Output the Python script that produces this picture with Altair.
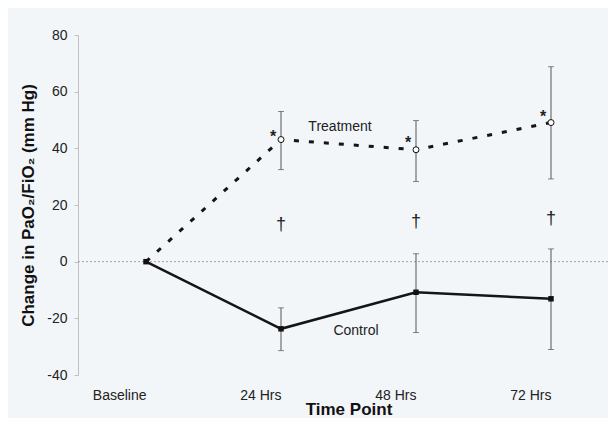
import altair as alt
import pandas as pd

time_points = ["Baseline", "24 Hrs", "48 Hrs", "72 Hrs"]
treat_mean = [0, 43.1, 39.5, 49.1]
treat_lo = [None, 32.5, 28.3, 29.2]
treat_hi = [None, 53.0, 49.8, 68.8]
ctrl_mean = [0, -23.7, -10.8, -13.1]
ctrl_lo = [None, -31.4, -25.0, -31.0]
ctrl_hi = [None, -16.3, 2.8, 4.5]
star_y = [None, 45.5, 43.4, 52.6]
dagger_y = [None, 13.1, 13.9, 15.2]
y_ticks = [-40, -20, 0, 20, 40, 60, 80]

FONT = "Liberation Sans"

treat = pd.DataFrame({"t": time_points, "m": treat_mean, "lo": treat_lo, "hi": treat_hi})
ctrl = pd.DataFrame({"t": time_points, "m": ctrl_mean, "lo": ctrl_lo, "hi": ctrl_hi})
ann = pd.DataFrame({"t": time_points, "s": star_y, "d": dagger_y})

xs = alt.Scale(domain=time_points, type="point", range=[68, 473], padding=0)
ys = alt.Scale(domain=[-40, 80], nice=False, zero=False)

X = alt.X("t:N", scale=xs, sort=time_points, axis=alt.Axis(
    title="Time Point", domain=False, ticks=False, labelAngle=0,
    labelFont=FONT, labelFontSize=14, labelColor="#222", labelPadding=20,
    titleFont=FONT, titleFontSize=17, titleFontWeight="bold", titleColor="#111",
    titleBaseline="alphabetic", titleY=39))
Y = alt.Y("m:Q", scale=ys, axis=alt.Axis(
    title="Change in PaO₂/FiO₂ (mm Hg)", values=y_ticks, grid=False,
    labelExpr="'' + datum.value",
    domainColor="#c0c0c0", tickColor="#c0c0c0", tickSize=4,
    labelFont=FONT, labelFontSize=14, labelColor="#222", labelPadding=7,
    titleFont=FONT, titleFontSize=17, titleFontWeight="bold", titleColor="#111",
    titlePadding=9))

zero = alt.Chart(pd.DataFrame({"z": [0]})).mark_rule(
    color="#a0a0a0", strokeDash=[2, 2], strokeWidth=1).encode(y=alt.Y("z:Q", scale=ys))

def errbars(df):
    d = df.dropna()
    base = alt.Chart(d).encode(x=alt.X("t:N", scale=xs, sort=time_points))
    rule = base.mark_rule(color="#555", strokeWidth=1).encode(
        y=alt.Y("lo:Q", scale=ys), y2="hi:Q")
    cap_lo = base.mark_tick(color="#555", thickness=1, size=6, orient="horizontal").encode(
        y=alt.Y("lo:Q", scale=ys))
    cap_hi = base.mark_tick(color="#555", thickness=1, size=6, orient="horizontal").encode(
        y=alt.Y("hi:Q", scale=ys))
    return rule + cap_lo + cap_hi

treat_line = alt.Chart(treat).mark_line(
    color="#151515", strokeWidth=3, strokeDash=[5, 10]).encode(x=X, y=Y)
ctrl_line = alt.Chart(ctrl).mark_line(color="#151515", strokeWidth=2.5).encode(x=X, y=Y)

treat_pts = alt.Chart(treat.iloc[1:]).mark_point(
    shape="circle", filled=True, fill="white", stroke="#111", strokeWidth=1, size=36, opacity=1
).encode(x=alt.X("t:N", scale=xs, sort=time_points), y=alt.Y("m:Q", scale=ys))
ctrl_pts = alt.Chart(ctrl).mark_point(
    shape="square", filled=True, color="#111", size=30, opacity=1
).encode(x=alt.X("t:N", scale=xs, sort=time_points), y=alt.Y("m:Q", scale=ys))

stars = alt.Chart(ann.dropna()).mark_text(
    text="*", font=FONT, fontSize=16, fontWeight="bold", color="#222", dx=-8, dy=4
).encode(x=alt.X("t:N", scale=xs, sort=time_points), y=alt.Y("s:Q", scale=ys))
daggers = alt.Chart(ann.dropna()).mark_text(
    text="†", font=FONT, fontSize=18, color="#222"
).encode(x=alt.X("t:N", scale=xs, sort=time_points), y=alt.Y("d:Q", scale=ys))

labels = pd.DataFrame({"t": ["24 Hrs", "24 Hrs"], "v": [47.6, -24.3],
                       "lab": ["Treatment", "Control"]})
lab_t = alt.Chart(labels.iloc[[0]]).mark_text(
    font=FONT, fontSize=14, color="#222", dx=59).encode(
    x=alt.X("t:N", scale=xs, sort=time_points), y=alt.Y("v:Q", scale=ys), text="lab:N")
lab_c = alt.Chart(labels.iloc[[1]]).mark_text(
    font=FONT, fontSize=14, color="#222", dx=75).encode(
    x=alt.X("t:N", scale=xs, sort=time_points), y=alt.Y("v:Q", scale=ys), text="lab:N")

chart = alt.layer(
    zero, errbars(treat), errbars(ctrl), treat_line, ctrl_line, treat_pts, ctrl_pts,
    stars, daggers, lab_t, lab_c
).properties(
    width=530, height=340,
    autosize=alt.AutoSizeParams(type="none"),
    padding={"left": 70, "top": 27, "right": 0, "bottom": 43},
    background="#f3f6f9",
).configure_view(stroke=None)

chart.save("out.html", embed_options={"renderer": "svg", "actions": False})
